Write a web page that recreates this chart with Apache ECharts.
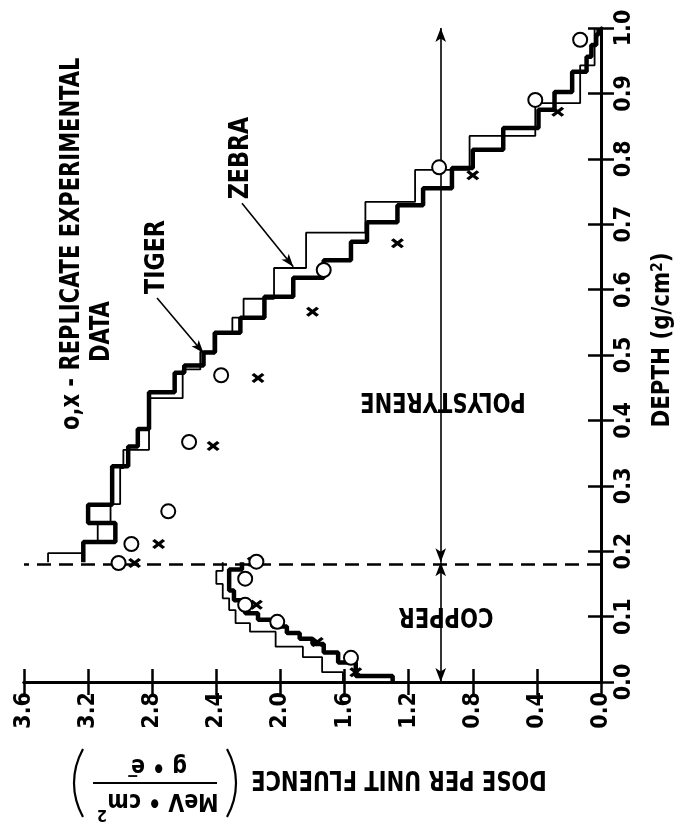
<!DOCTYPE html>
<html>
<head>
<meta charset="utf-8">
<script src="https://cdn.jsdelivr.net/npm/echarts@6/dist/echarts.min.js"></script>
<style>
html, body { margin: 0; padding: 0; background: #fff; }
#chart { width: 683px; height: 827px; }
</style>
</head>
<body>
<div id="chart"></div>
<script>
// depth bin edges (g/cm2) and dose per bin, TIGER = thick, ZEBRA = thin
var copperEnd = 0.183;

var tigerCuEdges = [0, 0.009, 0.030, 0.045, 0.058, 0.066, 0.075, 0.085, 0.095, 0.105, 0.125, 0.140, 0.172, 0.183];
var tigerCuDose = [1.30, 1.53, 1.64, 1.73, 1.80, 1.88, 1.96, 2.05, 2.14, 2.22, 2.29, 2.32, 2.24];

var tigerPsEdges = [0.183, 0.214, 0.243, 0.271, 0.330, 0.360, 0.387, 0.443, 0.473, 0.484,
	0.504, 0.534, 0.557, 0.589, 0.618, 0.645, 0.673, 0.703, 0.729, 0.755,
	0.786, 0.814, 0.847, 0.875, 0.902, 0.933, 0.956, 0.974, 0.990, 1.0];
var tigerPsDose = [3.23, 3.03, 3.20, 3.05, 2.95, 2.89, 2.82, 2.66, 2.60, 2.48,
	2.41, 2.25, 2.10, 1.92, 1.73, 1.56, 1.46, 1.27, 1.11, 0.93,
	0.80, 0.61, 0.39, 0.29, 0.18, 0.09, 0.06, 0.03, 0.015];

var zebraCuEdges = [0, 0.015, 0.038, 0.054, 0.077, 0.090, 0.110, 0.128, 0.150, 0.170, 0.183];
var zebraCuDose = [1.61, 1.74, 1.86, 2.03, 2.19, 2.28, 2.32, 2.36, 2.40, 2.36];

var zebraPsEdges = [0.183, 0.197, 0.214, 0.243, 0.272, 0.327, 0.355, 0.434, 0.478, 0.505,
	0.533, 0.557, 0.586, 0.633, 0.687, 0.734, 0.783, 0.835, 0.885, 0.943, 1.0];
var zebraPsDose = [3.45, 3.23, 3.14, 3.06, 3.00, 2.98, 2.82, 2.61, 2.50, 2.40,
	2.30, 2.23, 2.04, 1.84, 1.47, 1.16, 0.82, 0.41, 0.13, 0.04];

// replicate experimental data
var circleDepth = [0.037, 0.092, 0.118, 0.158, 0.184, 0.182, 0.211, 0.261, 0.367, 0.469, 0.630, 0.787, 0.890, 0.982];
var circleDose = [1.56, 2.02, 2.22, 2.22, 2.15, 3.01, 2.93, 2.70, 2.57, 2.37, 1.73, 1.01, 0.41, 0.13];
var crossDepth = [0.015, 0.061, 0.118, 0.184, 0.182, 0.211, 0.261, 0.361, 0.465, 0.566, 0.671, 0.775, 0.872];
var crossDose = [1.53, 1.77, 2.15, 2.17, 2.91, 2.76, 2.70, 2.42, 2.14, 1.80, 1.27, 0.80, 0.27];

var FONT = "'Liberation Sans Narrow','DejaVu Sans Condensed','DejaVu Sans',sans-serif";

function steps(edges, doses) {
	var pts = [];
	for (var i = 0; i < doses.length; i++) {
		pts.push([doses[i], edges[i]]);
		pts.push([doses[i], edges[i + 1]]);
	}
	return pts;
}
function pairs(depths, doses) {
	return depths.map(function(d, i) { return [doses[i], d]; });
}

function txt(x, y, text, size, rot, sx, align) {
	return {
		type: 'text', x: x, y: y, rotation: rot, scaleX: sx || 1,
		style: {
			text: text, fontSize: size, fontFamily: FONT, fontWeight: 'bold', fill: '#000',
			textAlign: align || 'center', align: align || 'center',
			textVerticalAlign: 'middle', verticalAlign: 'middle'
		}
	};
}
function paren(x, dir) {
	// thin bracket drawn as a curve, dir -1 = left, 1 = right
	return {
		type: 'bezierCurve',
		shape: { x1: x, y1: -34, cpx1: x + dir * 12, cpy1: -12, cpx2: x + dir * 12, cpy2: 12, x2: x, y2: 34 },
		style: { stroke: '#000', lineWidth: 2.2, fill: null }
	};
}

var axisCommon = {
	type: 'value',
	axisLine: { show: true, lineStyle: { color: '#000', width: 3 } },
	axisTick: { show: true, inside: true, length: 13, lineStyle: { color: '#000', width: 2.5 } },
	splitLine: { show: false }
};

var tickLabel = { rotate: 90, color: '#000', fontSize: 23, fontWeight: 'bold', fontFamily: FONT, margin: 10,
	formatter: function(v) { return v.toFixed(1); } };

var thick = { color: '#000', width: 4.5 };
var thin = { color: '#000', width: 1.8 };
var arrowLine = { color: '#000', width: 1.6, type: 'solid' };

var option = {
	animation: false,
	backgroundColor: '#fff',
	grid: { left: 24, right: 82, top: 28, bottom: 145, containLabel: false, outerBoundsMode: 'none' },
	xAxis: [
		Object.assign({}, axisCommon, { position: 'bottom', inverse: true, min: 0, max: 3.6, interval: 0.4, axisLabel: tickLabel }),
		Object.assign({}, axisCommon, { position: 'top', inverse: true, min: 0, max: 3.6, interval: 0.4, axisLabel: { show: false } })
	],
	yAxis: [
		Object.assign({}, axisCommon, { position: 'right', min: 0, max: 1, interval: 0.1,
			axisLabel: Object.assign({}, tickLabel, { margin: 12 }) }),
		Object.assign({}, axisCommon, { position: 'left', min: 0, max: 1, interval: 0.1, axisLabel: { show: false } })
	],
	series: [
		{ type: 'line', data: steps(zebraCuEdges, zebraCuDose), symbol: 'none', lineStyle: thin, z: 3 },
		{ type: 'line', data: steps(zebraPsEdges, zebraPsDose), symbol: 'none', lineStyle: thin, z: 3 },
		{ type: 'line', data: steps(tigerCuEdges, tigerCuDose), symbol: 'none', lineStyle: thick, z: 4 },
		{ type: 'line', data: steps(tigerPsEdges, tigerPsDose), symbol: 'none', lineStyle: thick, z: 4 },
		{
			// copper / polystyrene interface
			type: 'line', data: [], z: 2,
			markLine: {
				silent: true, animation: false, label: { show: false }, symbol: ['none', 'none'],
				lineStyle: { color: '#000', width: 2.5, type: [14, 8] },
				data: [{ yAxis: copperEnd }]
			}
		},
		{
			// layer arrows
			type: 'line', data: [], z: 2,
			markLine: {
				silent: true, animation: false, label: { show: false },
				symbol: ['arrow', 'arrow'], symbolSize: [8, 14], lineStyle: arrowLine,
				data: [
					[{ coord: [1.0, 0] }, { coord: [1.0, copperEnd] }],
					[{ coord: [1.0, copperEnd] }, { coord: [1.0, 1.0] }]
				]
			}
		},
		{
			// TIGER / ZEBRA pointers
			type: 'line', data: [], z: 2,
			markLine: {
				silent: true, animation: false, label: { show: false },
				symbol: ['none', 'arrow'], symbolSize: [7, 13], lineStyle: arrowLine,
				data: [
					[{ coord: [2.77, 0.587] }, { coord: [2.48, 0.503] }],
					[{ coord: [2.24, 0.732] }, { coord: [1.92, 0.635] }]
				]
			}
		},
		{
			type: 'scatter', data: pairs(crossDepth, crossDose), z: 6,
			symbol: 'path://M0,2L2,0L5,3L8,0L10,2L7,5L10,8L8,10L5,7L2,10L0,8L3,5Z',
			symbolSize: [13, 10], itemStyle: { color: '#000', opacity: 1 }
		},
		{
			type: 'scatter', data: pairs(circleDepth, circleDose), z: 7,
			symbol: 'circle', symbolSize: 14,
			itemStyle: { color: '#fff', borderColor: '#000', borderWidth: 2, opacity: 1 }
		}
	],
	graphic: { elements: [
		txt(72, 430, 'o,x - REPLICATE EXPERIMENTAL', 26, Math.PI / 2, 0.9, 'left'),
		txt(102, 362, 'DATA', 26, Math.PI / 2, 0.9, 'left'),
		txt(157, 257, 'TIGER', 26, Math.PI / 2, 0.95),
		txt(241, 158, 'ZEBRA', 26, Math.PI / 2, 0.95),
		txt(446, 615, 'COPPER', 26, Math.PI, 0.9),
		txt(443, 400, 'POLYSTYRENE', 26, Math.PI, 0.9),
		txt(399, 778, 'DOSE PER UNIT FLUENCE', 26, Math.PI, 0.9),
		{
			type: 'text', x: 662, y: 340, rotation: Math.PI / 2, scaleX: 0.95,
			style: {
				text: '{a|DEPTH (g/cm}{s|2}{a|)}', fill: '#000',
				textAlign: 'center', align: 'center', textVerticalAlign: 'middle', verticalAlign: 'middle',
				rich: {
					a: { fontSize: 25, fontWeight: 'bold', fontFamily: FONT },
					s: { fontSize: 16, fontWeight: 'bold', fontFamily: FONT, verticalAlign: 'top' }
				}
			}
		},
		{
			type: 'group', x: 155, y: 783, rotation: Math.PI,
			children: [
				paren(-72, -1),
				paren(72, 1),
				txt(-8, -17, 'MeV \u2022 cm', 24, 0, 0.95),
				txt(53, -31, '2', 16, 0, 1),
				{ type: 'line', shape: { x1: -62, y1: 0, x2: 62, y2: 0 }, style: { stroke: '#000', lineWidth: 2 } },
				txt(-4, 18, 'g \u2022 e', 24, 0, 0.95),
				txt(22, 8, '\u2212', 16, 0, 1)
			]
		}
	] }
};

var chart = echarts.init(document.getElementById('chart'));
chart.setOption(option);
</script>
</body>
</html>
